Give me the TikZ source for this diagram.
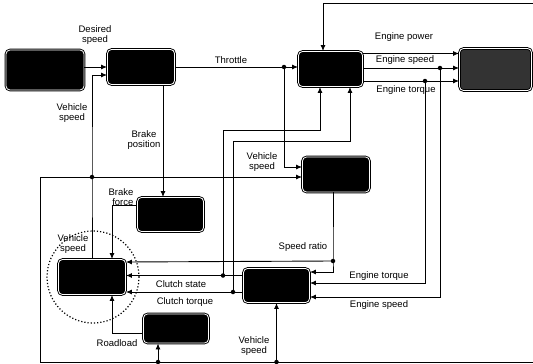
\documentclass[tikz,border=0pt]{standalone}
\usepackage{fontspec}
\setmainfont{Liberation Sans}
\usetikzlibrary{arrows.meta,calc}
\tikzset{
  blk/.style={draw, fill=black, rounded corners=4pt, double=white, double distance=0.8pt, inner sep=0pt},
  lbl/.style={font=\fontsize{9.5}{10}\selectfont, align=center, inner sep=0pt},
  dot/.style={circle, fill=black, inner sep=0pt, minimum size=4.5pt},
}

\begin{document}
\begin{tikzpicture}[x=1pt, y=-1pt, >={Latex[length=6pt,width=5pt]}, line width=0.9pt]
    \useasboundingbox (0,0) rectangle (533,364);

    % Blocks
    \node[blk, minimum width=78pt, minimum height=40pt] (drv) at (45,70) {};
    \node[blk, minimum width=67pt, minimum height=35pt] (ctl) at (141,67) {};
    \node[blk, minimum width=64pt, minimum height=35pt] (eng) at (330.5,69) {};
    \node[blk, fill=black!80, minimum width=72pt, minimum height=42pt] (load) at (495.5,69.5) {};
    \node[blk, minimum width=67pt, minimum height=35pt] (sv) at (336,174.5) {};
    \node[blk, minimum width=66pt, minimum height=34pt] (brk) at (170.5,214.5) {};
    \node[blk, minimum width=67pt, minimum height=35pt] (veh) at (92,277) {};
    \node[blk, minimum width=66pt, minimum height=34pt] (trans) at (276.5,285.5) {};
    \node[blk, minimum width=65pt, minimum height=29pt] (road) at (176,328.5) {};

    \draw[dotted, line width=1.2pt] (93,277) circle (46pt);

    % Driver and controller
    \draw[->] (drv.east |- ctl.west) -- (ctl.west);
    \coordinate (j1) at (92,177);
    \coordinate (ctlv) at ([yshift=-8pt]ctl.west);
    \draw[->] (veh.north) -- (j1) -- (j1 |- ctlv) -- (ctlv);
    \node[dot] at (j1) {};
    \draw[->] (j1) -- ([yshift=-2.5pt]sv.west);

    % Vehicle speed bus
    \coordinate (bl) at (40,362);
    \coordinate (br) at (533,362);
    \draw (j1) -- (bl |- j1) -- (bl) -- (br);
    \coordinate (jr1) at ([xshift=-18pt]road.south |- bl);
    \coordinate (jr2) at (trans.south |- bl);
    \draw[->] (jr1) -- (jr1 |- road.south);
    \draw[->] (jr2) -- (trans.south);
    \node[dot] at (jr1) {};
    \node[dot] at (jr2) {};

    % Throttle
    \coordinate (jt) at (284,67);
    \draw[->] (ctl.east) -- (ctl.east -| eng.west);
    \draw[->] (jt) -- (jt |- 0,167) -- ([yshift=7.5pt]sv.west);
    \node[dot] at (jt) {};

    % Brake
    \coordinate (bp) at ([xshift=22pt]ctl.south);
    \draw[->] (bp) -- (bp |- brk.north);
    \draw[->] ([yshift=9.5pt]brk.west) -| ([xshift=20pt]veh.north);
    \draw[->] ([yshift=-4.5pt]road.west) -| ([xshift=20pt]veh.south);

    % Engine outputs
    \draw[->] ([yshift=15.5pt]eng.east) -- ([yshift=15.5pt]eng.east -| load.west);
    \draw[->] ([yshift=1pt]eng.east) -- ([yshift=1pt]eng.east -| load.west);
    \draw[->] ([yshift=-12pt]eng.east) -- ([yshift=-12pt]eng.east -| load.west);
    \coordinate (es) at (440,68);
    \coordinate (et) at (425,81);
    \draw[->] (et) -- (et |- 0,283) -- ([yshift=2.5pt]trans.east);
    \draw[->] (es) -- (es |- 0,297) -- ([yshift=-11.5pt]trans.east);
    \node[dot] at (es) {};
    \node[dot] at (et) {};

    % Feedback from the right
    \coordinate (fb) at (533,3);
    \draw[->] (fb) -| ([xshift=-7.5pt]eng.north);

    % Speed ratio
    \coordinate (jsr) at (333,261);
    \draw[->] ([xshift=-3pt]sv.south) -- (jsr) -- (jsr |- 0,272) -- ([yshift=13.5pt]trans.east);
    \draw[->] (jsr) -- ([yshift=15pt]veh.east);
    \node[dot] at (jsr) {};

    % Clutch lines
    \coordinate (jc1) at (223,275.5);
    \coordinate (jc2) at (233,292);
    \draw[->] ([yshift=10pt]trans.west) -- ([yshift=10pt]trans.west -| veh.east);
    \draw[->] ([yshift=-6.5pt]trans.west) -- ([yshift=-6.5pt]trans.west -| veh.east);
    \draw[->] (jc1) -- (jc1 |- 0,130) -| ([xshift=-10.5pt]eng.south);
    \draw[->] (jc2) -- (jc2 |- 0,141) -| ([xshift=19.5pt]eng.south);
    \node[dot] at (jc1) {};
    \node[dot] at (jc2) {};

    % Labels
    \node[lbl] (ldes) at (95,35) {Desired\\speed};
    \node[lbl] (lvs1) at (72,113) {Vehicle\\speed};
    \node[lbl] (lthr) at (231,60) {Throttle};
    \node[lbl] (lbp) at (144,140) {Brake\\position};
    \node[lbl] (lvs2) at (262,162) {Vehicle\\speed};
    \node[lbl] (lep) at (404,37) {Engine power};
    \node[lbl] (les1) at (405,60) {Engine speed};
    \node[lbl] (let1) at (406,90) {Engine torque};
    \node[lbl, align=right] (lbf) at (121,197) {Brake\\force};
    \node[lbl] (lvs3) at (73,244) {Vehicle\\speed};
    \node[lbl] (lsr) at (303,247) {Speed ratio};
    \node[lbl] (lcs) at (181,284) {Clutch state};
    \node[lbl] (lct) at (185,302) {Clutch torque};
    \node[lbl] (let2) at (379,276) {Engine torque};
    \node[lbl] (les2) at (379,305) {Engine speed};
    \node[lbl] (lrl) at (117,343) {Roadload};
    \node[lbl] (lvs4) at (254,346) {Vehicle\\speed};
\end{tikzpicture}
\end{document}
